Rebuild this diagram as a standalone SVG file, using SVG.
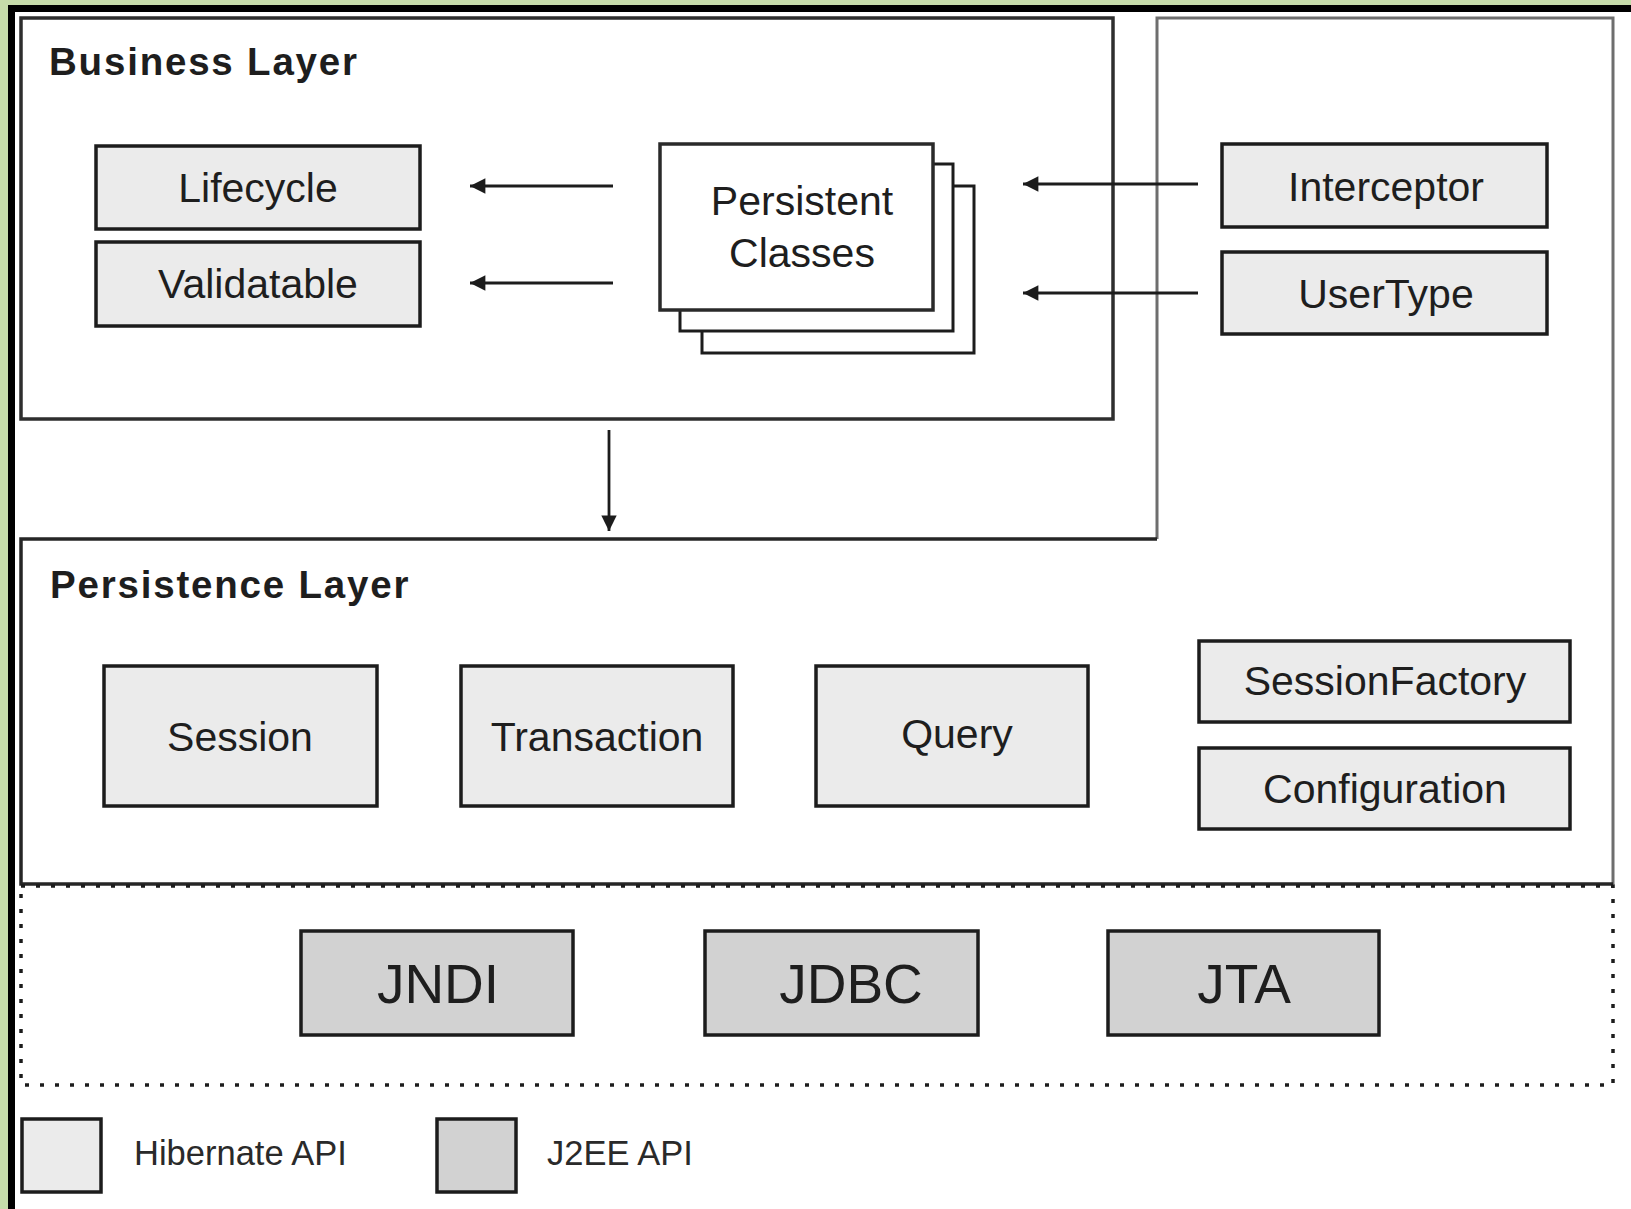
<svg xmlns="http://www.w3.org/2000/svg" width="1631" height="1209" viewBox="0 0 1631 1209">
<defs>
<style>
.box{fill:#ebebeb;stroke:#1c1c1c;stroke-width:3.5}
.j2ee{fill:#d2d2d2;stroke:#1c1c1c;stroke-width:3.5}
.t{font-family:"Liberation Sans",Arial,sans-serif;fill:#1e1e1e;text-anchor:middle;font-size:41px}
.big{font-size:55px}
.h{font-family:"Liberation Sans",Arial,sans-serif;font-weight:bold;fill:#1e1e1e;font-size:38.5px;letter-spacing:1.8px}
.leg{font-family:"Liberation Sans",Arial,sans-serif;fill:#2a2a2a;font-size:34.5px}
.con{stroke:#1c1c1c;stroke-width:2.8;fill:none}
</style>
<marker id="ah" viewBox="0 0 10 10" refX="10" refY="5" markerWidth="6.5" markerHeight="5.5" markerUnits="strokeWidth" orient="auto">
<path d="M0,0 L10,5 L0,10 Z" fill="#1c1c1c"/>
</marker>
</defs>
<rect x="0" y="0" width="1631" height="1209" fill="#ffffff"/>
<rect x="0" y="0" width="1631" height="5" fill="#c6dcaa"/>
<rect x="0" y="0" width="8" height="1209" fill="#c6dcaa"/>
<rect x="8" y="5" width="1623" height="7" fill="#000"/>
<rect x="8" y="5" width="7" height="1204" fill="#000"/>

<g id="persistence-layer">
<path d="M21,539 H1157 V18 H1613 V884 H21 Z" fill="#fff" stroke="none"/>
<path d="M1157,539 V18 H1613 V884" fill="none" stroke="#6e6e6e" stroke-width="3"/>
<path d="M1157,539 H21 V884 H1613" fill="none" stroke="#262626" stroke-width="3.5"/>
<text class="h" x="50" y="598">Persistence Layer</text>
</g>

<g id="business-layer">
<rect x="21" y="18" width="1092" height="401" fill="#fff" stroke="#2e2e2e" stroke-width="3.5"/>
<text class="h" x="49" y="75">Business Layer</text>
</g>

<g id="j2ee-area">
<rect x="21" y="886" width="1592" height="199" fill="none" stroke="#1c1c1c" stroke-width="3.5" stroke-dasharray="4 11"/>
</g>

<g id="lifecycle"><rect class="box" x="96" y="146" width="324" height="83"/><text class="t" x="258" y="202">Lifecycle</text></g>
<g id="validatable"><rect class="box" x="96" y="242" width="324" height="84"/><text class="t" x="258" y="298">Validatable</text></g>

<g id="persistent-classes">
<rect x="702" y="186" width="272" height="167" fill="#fff" stroke="#1c1c1c" stroke-width="3"/>
<rect x="680" y="164" width="273" height="167" fill="#fff" stroke="#1c1c1c" stroke-width="3"/>
<rect x="660" y="144" width="273" height="166" fill="#fff" stroke="#2a2a2a" stroke-width="3.5"/>
<text class="t" x="802" y="215">Persistent</text>
<text class="t" x="802" y="267">Classes</text>
</g>

<g id="interceptor"><rect class="box" x="1222" y="144" width="325" height="83"/><text class="t" x="1386" y="201">Interceptor</text></g>
<g id="usertype"><rect class="box" x="1222" y="252" width="325" height="82"/><text class="t" x="1386" y="308">UserType</text></g>

<g id="session"><rect class="box" x="104" y="666" width="273" height="140"/><text class="t" x="240" y="751">Session</text></g>
<g id="transaction"><rect class="box" x="461" y="666" width="272" height="140"/><text class="t" x="597" y="751">Transaction</text></g>
<g id="query"><rect class="box" x="816" y="666" width="272" height="140"/><text class="t" x="957" y="748">Query</text></g>
<g id="sessionfactory"><rect class="box" x="1199" y="641" width="371" height="81"/><text class="t" x="1385" y="695">SessionFactory</text></g>
<g id="configuration"><rect class="box" x="1199" y="748" width="371" height="81"/><text class="t" x="1385" y="803">Configuration</text></g>

<g id="jndi"><rect class="j2ee" x="301" y="931" width="272" height="104"/><text class="t big" x="438" y="1003">JNDI</text></g>
<g id="jdbc"><rect class="j2ee" x="705" y="931" width="273" height="104"/><text class="t big" x="851" y="1003">JDBC</text></g>
<g id="jta"><rect class="j2ee" x="1108" y="931" width="271" height="104"/><text class="t big" x="1244" y="1003">JTA</text></g>

<g id="legend">
<rect x="22" y="1119" width="79" height="73" fill="#ebebeb" stroke="#1c1c1c" stroke-width="3.5"/>
<text class="leg" x="134" y="1165">Hibernate API</text>
<rect x="437" y="1119" width="79" height="73" fill="#d2d2d2" stroke="#1c1c1c" stroke-width="3.5"/>
<text class="leg" x="547" y="1165">J2EE API</text>
</g>

<g id="connectors">
<line class="con" x1="613" y1="186" x2="470" y2="186" marker-end="url(#ah)"/>
<line class="con" x1="613" y1="283" x2="470" y2="283" marker-end="url(#ah)"/>
<line class="con" x1="1198" y1="184" x2="1023" y2="184" marker-end="url(#ah)"/>
<line class="con" x1="1198" y1="293" x2="1023" y2="293" marker-end="url(#ah)"/>
<line class="con" x1="609" y1="430" x2="609" y2="531" marker-end="url(#ah)"/>
</g>
</svg>
